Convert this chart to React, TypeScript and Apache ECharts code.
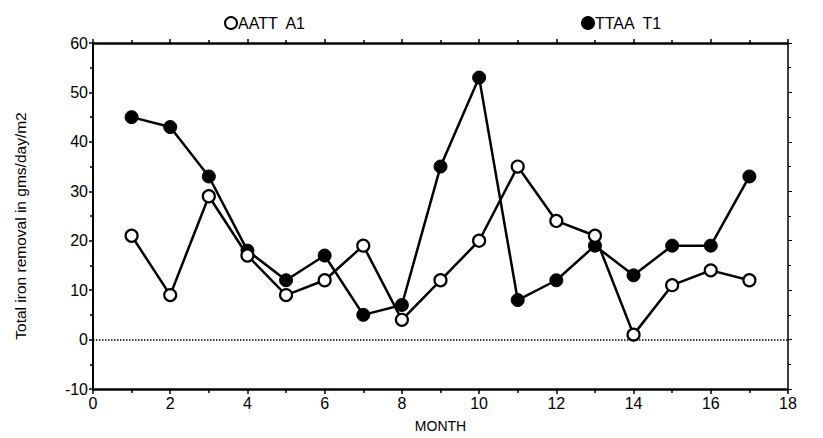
import React, { useEffect, useRef } from "react";
import * as echarts from "echarts";

const months = [1, 2, 3, 4, 5, 6, 7, 8, 9, 10, 11, 12, 13, 14, 15, 16, 17];
const a1Values = [21, 9, 29, 17, 9, 12, 19, 4, 12, 20, 35, 24, 21, 1, 11, 14, 12];
const t1Values = [45, 43, 33, 18, 12, 17, 5, 7, 35, 53, 8, 12, 19, 13, 19, 19, 33];
const seriesNames = ["AATT  A1", "TTAA  T1"];
const yTitle = "Total iron removal in gms/day/m2";
const xTitle = "MONTH";

export default function App() {
  const ref = useRef<HTMLDivElement>(null);
  useEffect(() => {
    if (!ref.current) return;
    const chart = echarts.init(ref.current, undefined, { renderer: "svg" });
    const font = "Liberation Sans";
    const legendText = { fontSize: 16, color: "#000", fontFamily: font, padding: [0, 0, 0, -4] };
    chart.setOption({
      animation: false,
      backgroundColor: "#fff",
      textStyle: { fontFamily: font },
      grid: { left: 93, right: 35, top: 43, bottom: 49, containLabel: false },
      graphic: [
        {
          type: "text",
          x: 20,
          y: 226,
          rotation: Math.PI / 2,
          style: {
            text: yTitle,
            fontSize: 15.5,
            fontFamily: font,
            fill: "#000",
            align: "center",
            verticalAlign: "middle",
          },
        },
      ],
      legend: [
        {
          data: [seriesNames[0]],
          left: 219,
          top: 10,
          itemWidth: 12,
          itemHeight: 12,
          itemGap: 2,
          icon: "circle",
          textStyle: legendText,
        },
        {
          data: [seriesNames[1]],
          left: 576,
          top: 10,
          itemWidth: 12,
          itemHeight: 12,
          itemGap: 2,
          icon: "circle",
          textStyle: legendText,
        },
      ],
      xAxis: [
        {
          type: "value",
          min: 0,
          max: 18,
          interval: 2,
          position: "bottom",
          name: xTitle,
          nameLocation: "middle",
          nameGap: 30,
          nameTextStyle: { fontSize: 14, color: "#000", fontFamily: font },
          axisLine: { show: true, onZero: false, lineStyle: { color: "#000", width: 2.5 } },
          axisTick: { show: true, length: 5, lineStyle: { color: "#000", width: 1.5 } },
          minorTick: { show: true, splitNumber: 2, length: 4, lineStyle: { color: "#000", width: 1.5 } },
          axisLabel: { fontSize: 16, color: "#000", margin: 6, fontFamily: font },
          splitLine: { show: false },
        },
        {
          type: "value",
          min: 0,
          max: 18,
          interval: 2,
          position: "top",
          axisLine: { show: true, onZero: false, lineStyle: { color: "#000", width: 2.5 } },
          axisTick: { show: true, length: 4, lineStyle: { color: "#000", width: 1.5 } },
          minorTick: { show: true, splitNumber: 2, length: 3, lineStyle: { color: "#000", width: 1.5 } },
          axisLabel: { show: false },
          splitLine: { show: false },
        },
      ],
      yAxis: [
        {
          type: "value",
          min: -10,
          max: 60,
          interval: 10,
          position: "left",
          axisLine: { show: true, onZero: false, lineStyle: { color: "#000", width: 2 } },
          axisTick: { show: true, length: 4, lineStyle: { color: "#000", width: 1.5 } },
          minorTick: { show: true, splitNumber: 2, length: 3, lineStyle: { color: "#000", width: 1.5 } },
          axisLabel: { fontSize: 16, color: "#000", margin: 5, fontFamily: font },
          splitLine: { show: false },
        },
        {
          type: "value",
          min: -10,
          max: 60,
          interval: 10,
          position: "right",
          axisLine: { show: true, onZero: false, lineStyle: { color: "#000", width: 1.5 } },
          axisTick: { show: true, length: 4, lineStyle: { color: "#000", width: 1 } },
          minorTick: { show: true, splitNumber: 2, length: 3, lineStyle: { color: "#000", width: 1 } },
          axisLabel: { show: false },
          splitLine: { show: false },
        },
      ],
      series: [
        {
          name: seriesNames[1],
          type: "line",
          data: months.map((m, i) => [m, t1Values[i]]),
          symbol: "circle",
          symbolSize: 13,
          lineStyle: { color: "#000", width: 2.5 },
          itemStyle: { color: "#000", borderColor: "#000", borderWidth: 1 },
          z: 2,
        },
        {
          name: seriesNames[0],
          type: "line",
          data: months.map((m, i) => [m, a1Values[i]]),
          symbol: "circle",
          symbolSize: 12,
          lineStyle: { color: "#000", width: 2.5 },
          itemStyle: { color: "#fff", borderColor: "#000", borderWidth: 2.2 },
          z: 3,
          markLine: {
            silent: true,
            symbol: "none",
            label: { show: false },
            lineStyle: { color: "#000", type: "dotted", width: 1.5 },
            data: [{ yAxis: 0 }],
          },
        },
      ],
    });
    return () => chart.dispose();
  }, []);
  return <div ref={ref} style={{ width: 823, height: 438, position: "absolute", left: 0, top: 0 }} />;
}
